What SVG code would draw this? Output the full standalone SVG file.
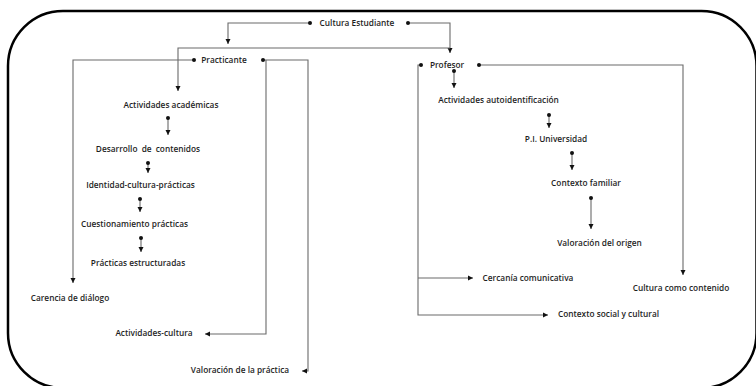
<svg xmlns="http://www.w3.org/2000/svg" width="756" height="386" viewBox="0 0 756 386">
<defs>
<style>
text{font-family:"Open Sans","Liberation Sans",sans-serif;font-size:8.3px;font-weight:600;fill:#1e1e1e;text-anchor:middle}
.c path{fill:none;stroke:#6a6a6a;stroke-width:1.1}
</style>
<marker id="ar" markerUnits="userSpaceOnUse" markerWidth="6" markerHeight="6" refX="5" refY="3" orient="auto"><path d="M0,0.5 L5,3 L0,5.5 z" fill="#111"/></marker>
<marker id="dt" markerUnits="userSpaceOnUse" markerWidth="5" markerHeight="5" refX="2.5" refY="2.5"><circle cx="2.5" cy="2.5" r="2" fill="#111"/></marker>
</defs>
<rect x="8" y="11" width="748.5" height="377" rx="55" ry="55" fill="#fff" stroke="#000" stroke-width="2.5"/>
<g class="c" id="connectors">
<path d="M310,23 H228 V44" marker-start="url(#dt)" marker-end="url(#ar)"/>
<path d="M408,23 H450 V53" marker-start="url(#dt)" marker-end="url(#ar)"/>
<path d="M450,48 H178 V91" marker-end="url(#ar)"/>
<path d="M194,60 H73 V283" marker-start="url(#dt)" marker-end="url(#ar)"/>
<path d="M263,60 H308 V371 H302" marker-start="url(#dt)" marker-end="url(#ar)"/>
<path d="M266,60 V334 H205" marker-end="url(#ar)"/>
<path d="M168,118 V135" marker-start="url(#dt)" marker-end="url(#ar)"/>
<path d="M148,163 V173" marker-start="url(#dt)" marker-end="url(#ar)"/>
<path d="M140,199 V212" marker-start="url(#dt)" marker-end="url(#ar)"/>
<path d="M141,238 V252" marker-start="url(#dt)" marker-end="url(#ar)"/>
<path d="M421,65 H418 V315 H548" marker-start="url(#dt)" marker-end="url(#ar)"/>
<path d="M418,278 H473" marker-end="url(#ar)"/>
<path d="M479,65 H683 V275" marker-start="url(#dt)" marker-end="url(#ar)"/>
<path d="M454,71 V88" marker-start="url(#dt)" marker-end="url(#ar)"/>
<path d="M549,115 V128" marker-start="url(#dt)" marker-end="url(#ar)"/>
<path d="M572,153 V170" marker-start="url(#dt)" marker-end="url(#ar)"/>
<path d="M591,198 V229" marker-start="url(#dt)" marker-end="url(#ar)"/>
</g>
<g id="n-cultura"><text x="357" y="26">Cultura Estudiante</text></g>
<g id="n-practicante"><text x="224" y="63">Practicante</text></g>
<g id="n-profesor"><text x="447" y="68">Profesor</text></g>
<g id="n-actacad"><text x="171" y="108">Actividades académicas</text></g>
<g id="n-desarrollo"><text x="148" y="152" word-spacing="2">Desarrollo de contenidos</text></g>
<g id="n-identidad"><text x="140.5" y="188">Identidad-cultura-prácticas</text></g>
<g id="n-cuestionamiento"><text x="134.5" y="227">Cuestionamiento prácticas</text></g>
<g id="n-estructuradas"><text x="138" y="266">Prácticas estructuradas</text></g>
<g id="n-carencia"><text x="70" y="301">Carencia de diálogo</text></g>
<g id="n-actcultura"><text x="154" y="336">Actividades-cultura</text></g>
<g id="n-valpractica"><text x="240" y="373">Valoración de la práctica</text></g>
<g id="n-autoid"><text x="498.5" y="103">Actividades autoidentificación</text></g>
<g id="n-pi"><text x="556" y="142">P.I. Universidad</text></g>
<g id="n-familiar"><text x="586" y="186">Contexto familiar</text></g>
<g id="n-origen"><text x="599.5" y="246">Valoración del origen</text></g>
<g id="n-cercania"><text x="528" y="281">Cercanía comunicativa</text></g>
<g id="n-contenido"><text x="681" y="291">Cultura como contenido</text></g>
<g id="n-social"><text x="608.5" y="317">Contexto social y cultural</text></g>
</svg>
